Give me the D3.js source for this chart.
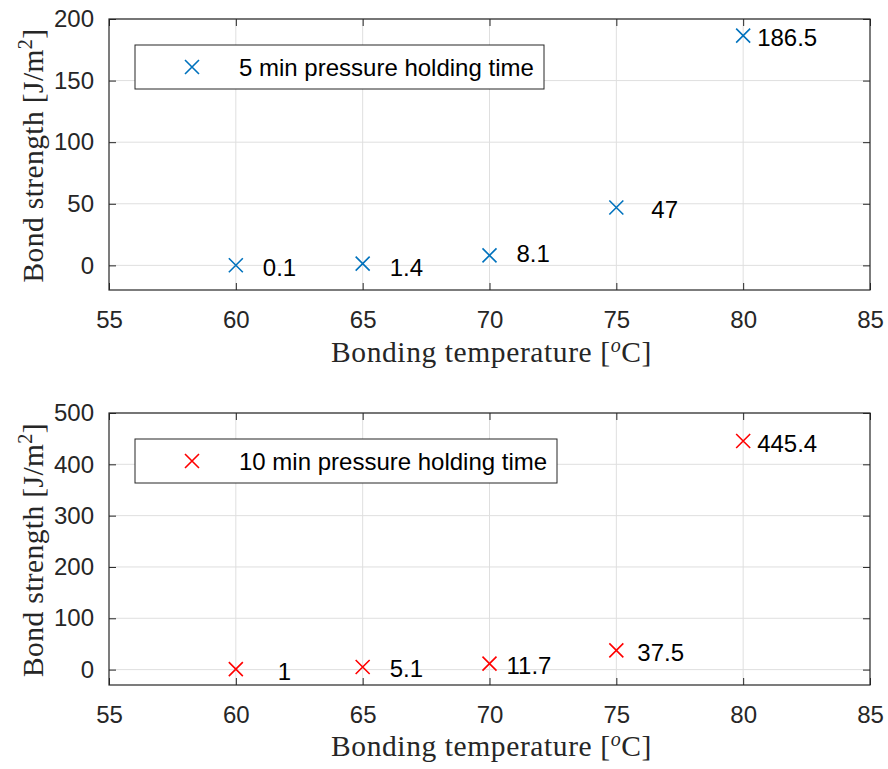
<!DOCTYPE html>
<meta charset="utf-8">
<style>
  body { margin: 0; background: #fff; }
  svg text { fill: #262626; }
</style>
<svg id="chart" width="888" height="769"></svg>
<script src="https://cdn.jsdelivr.net/npm/d3@7"></script>
<script>
"use strict"

// data
var temps = [60, 65, 70, 75, 80]
var strength5 = [0.1, 1.4, 8.1, 47, 186.5]
var strength10 = [1, 5.1, 11.7, 37.5, 445.4]
var labels5 = ["0.1", "1.4", "8.1", "47", "186.5"]
var labels10 = ["1", "5.1", "11.7", "37.5", "445.4"]
var xTicks = [55, 60, 65, 70, 75, 80, 85]
var yTicks5 = [0, 50, 100, 150, 200]
var yTicks10 = [0, 100, 200, 300, 400, 500]

var svg = d3.select("#chart")
var tickFont = "'Liberation Sans', Arial, sans-serif"
var labFont = "'Liberation Serif', 'Times New Roman', serif"
var fs = 24
var lfs = 29.5

function panel(o) {
  var x = d3.scaleLinear().domain([55, 85]).range([o.left, o.right])
  var y = d3.scaleLinear().domain(o.ydom).range([o.bottom, o.top])
  var g = svg.append("g")

  // grid
  g.selectAll(".gx").data(xTicks.slice(1, -1)).enter().append("line")
    .attr("x1", d => x(d)).attr("x2", d => x(d))
    .attr("y1", o.top).attr("y2", o.bottom)
    .attr("stroke", "#dfdfdf").attr("stroke-width", 1)
  g.selectAll(".gy").data(o.yticks).enter().append("line")
    .attr("x1", o.left).attr("x2", o.right)
    .attr("y1", d => y(d)).attr("y2", d => y(d))
    .attr("stroke", "#dfdfdf").attr("stroke-width", 1)

  // axes, ticks inside
  var tl = 7
  var ax = g.append("g").attr("transform", "translate(0," + o.bottom + ")")
    .call(d3.axisBottom(x).tickValues(xTicks).tickSizeInner(-tl).tickSizeOuter(0).tickPadding(tl + 14))
  var axt = g.append("g").attr("transform", "translate(0," + o.top + ")")
    .call(d3.axisTop(x).tickValues(xTicks).tickSizeInner(-tl).tickSizeOuter(0).tickFormat(""))
  var ay = g.append("g").attr("transform", "translate(" + o.left + ",0)")
    .call(d3.axisLeft(y).tickValues(o.yticks).tickSizeInner(-tl).tickSizeOuter(0).tickPadding(tl + 8))
  var ayr = g.append("g").attr("transform", "translate(" + o.right + ",0)")
    .call(d3.axisRight(y).tickValues(o.yticks).tickSizeInner(-tl).tickSizeOuter(0).tickFormat(""))
  ;[ax, axt, ay, ayr].forEach(function(a) {
    a.select(".domain").remove()
    a.selectAll("line").attr("stroke", "#262626").attr("stroke-width", 1)
    a.selectAll("text").attr("font-family", tickFont).attr("font-size", fs).attr("fill", "#262626")
  })
  g.append("rect").attr("x", o.left).attr("y", o.top)
    .attr("width", o.right - o.left).attr("height", o.bottom - o.top)
    .attr("fill", "none").attr("stroke", "#262626").attr("stroke-width", 1.2)

  // markers
  function cross(sel, cx, cy) {
    var s = 7
    sel.append("path")
      .attr("d", "M" + (cx - s) + "," + (cy - s) + "L" + (cx + s) + "," + (cy + s) +
                 "M" + (cx - s) + "," + (cy + s) + "L" + (cx + s) + "," + (cy - s))
      .attr("stroke", o.color).attr("stroke-width", 1.6).attr("fill", "none")
  }
  temps.forEach(function(t, i) {
    cross(g, x(t), y(o.vals[i]))
    g.append("text").attr("x", x(t) + o.dx[i]).attr("y", y(o.vals[i]) + o.dy[i])
      .attr("dominant-baseline", "central")
      .attr("font-family", tickFont).attr("font-size", fs).style("fill", "#000")
      .text(o.labels[i])
  })

  // legend
  var lg = o.legend
  g.append("rect").attr("x", lg.x).attr("y", lg.y).attr("width", lg.w).attr("height", lg.h)
    .attr("fill", "#fff").attr("stroke", "#262626").attr("stroke-width", 1)
  cross(g, lg.x + 57, lg.y + lg.h / 2)
  g.append("text").attr("x", lg.x + 104).attr("y", lg.y + lg.h / 2)
    .attr("dominant-baseline", "central")
    .attr("font-family", tickFont).attr("font-size", fs).style("fill", "#000")
    .text(lg.text)

  // axis titles
  g.append("text").attr("x", (o.left + o.right) / 2 + 2).attr("y", o.bottom + o.xlabDy)
    .attr("text-anchor", "middle").attr("font-family", labFont).attr("font-size", lfs)
    .attr("letter-spacing", 0.6)
    .html("Bonding temperature [<tspan dy='-10' font-size='20' font-style='italic'>o</tspan><tspan dy='10'>C]</tspan>")
  g.append("text")
    .attr("transform", "translate(" + 43 + "," + ((o.top + o.bottom) / 2 + 1) + ") rotate(-90)")
    .attr("text-anchor", "middle").attr("font-family", labFont).attr("font-size", lfs)
    .attr("letter-spacing", 0.4)
    .html("Bond strength [J/m<tspan dy='-11' font-size='20'>2</tspan><tspan dy='11'>]</tspan>")
}

panel({
  left: 109, right: 870, top: 19, bottom: 290, ydom: [-20, 200], yticks: yTicks5,
  vals: strength5, labels: labels5, color: "#0072BD", xlabDy: 72,
  dx: [27, 27, 27, 35, 14], dy: [2, 4, -2, 2, 2],
  legend: { x: 135, y: 45, w: 409, h: 44, text: "5 min pressure holding time" }
})
panel({
  left: 109, right: 870, top: 413, bottom: 685, ydom: [-30, 500], yticks: yTicks10,
  vals: strength10, labels: labels10, color: "#FF0000", xlabDy: 71,
  dx: [42, 27, 17, 21, 14], dy: [2, 2, 2, 2, 2],
  legend: { x: 135, y: 439, w: 422, h: 44, text: "10 min pressure holding time" }
})
</script>
